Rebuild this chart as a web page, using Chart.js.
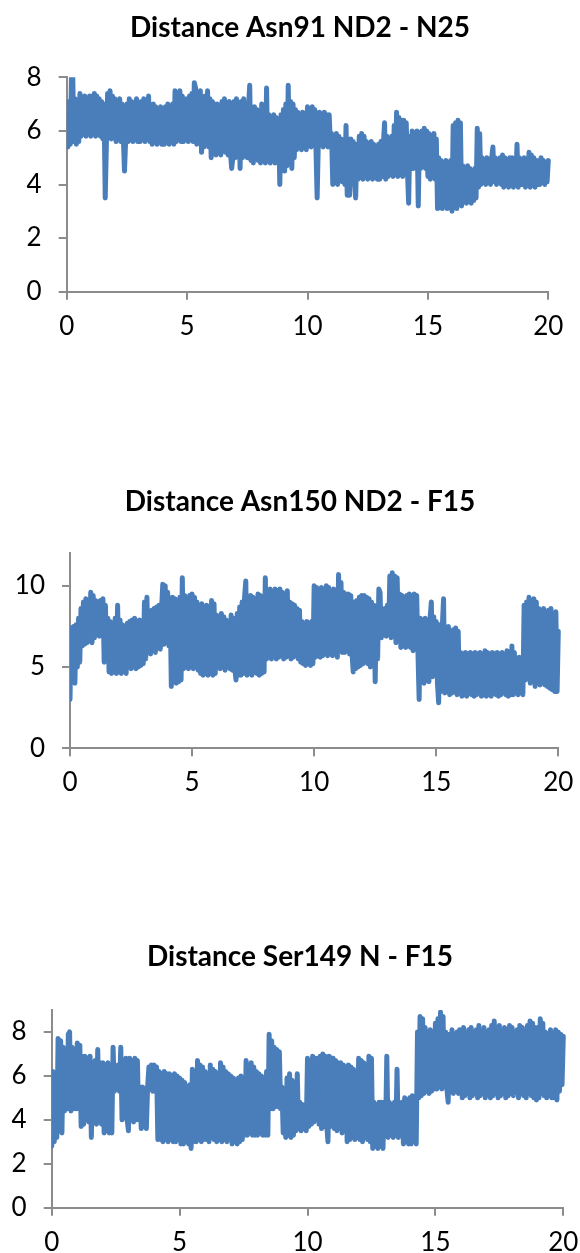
<!DOCTYPE html>
<html>
<head>
<meta charset="utf-8">
<script src="https://cdn.jsdelivr.net/npm/chart.js@4.4.0/dist/chart.umd.min.js"></script>
<style>
  html, body { margin: 0; padding: 0; background: #fff; overflow: hidden; }
  .box { position: absolute; left: 0; width: 600px; height: 350px; }
</style>
</head>
<body>
<div class="box" style="top:0px"><canvas id="chart1"></canvas></div>
<div class="box" style="top:460px"><canvas id="chart2"></canvas></div>
<div class="box" style="top:903px"><canvas id="chart3"></canvas></div>
<script>
// simulation time (ns)
var time = [
  0,0.05,0.1,0.15,0.2,0.25,0.3,0.35,0.4,0.45,0.5,0.55,0.6,0.65,0.7,0.75,0.8,0.85,0.9,0.95,
  1,1.05,1.1,1.15,1.2,1.25,1.3,1.35,1.4,1.45,1.5,1.55,1.6,1.65,1.7,1.75,1.8,1.85,1.9,1.95,
  2,2.05,2.1,2.15,2.2,2.25,2.3,2.35,2.4,2.45,2.5,2.55,2.6,2.65,2.7,2.75,2.8,2.85,2.9,2.95,
  3,3.05,3.1,3.15,3.2,3.25,3.3,3.35,3.4,3.45,3.5,3.55,3.6,3.65,3.7,3.75,3.8,3.85,3.9,3.95,
  4,4.05,4.1,4.15,4.2,4.25,4.3,4.35,4.4,4.45,4.5,4.55,4.6,4.65,4.7,4.75,4.8,4.85,4.9,4.95,
  5,5.05,5.1,5.15,5.2,5.25,5.3,5.35,5.4,5.45,5.5,5.55,5.6,5.65,5.7,5.75,5.8,5.85,5.9,5.95,
  6,6.05,6.1,6.15,6.2,6.25,6.3,6.35,6.4,6.45,6.5,6.55,6.6,6.65,6.7,6.75,6.8,6.85,6.9,6.95,
  7,7.05,7.1,7.15,7.2,7.25,7.3,7.35,7.4,7.45,7.5,7.55,7.6,7.65,7.7,7.75,7.8,7.85,7.9,7.95,
  8,8.05,8.1,8.15,8.2,8.25,8.3,8.35,8.4,8.45,8.5,8.55,8.6,8.65,8.7,8.75,8.8,8.85,8.9,8.95,
  9,9.05,9.1,9.15,9.2,9.25,9.3,9.35,9.4,9.45,9.5,9.55,9.6,9.65,9.7,9.75,9.8,9.85,9.9,9.95,
  10,10.05,10.1,10.15,10.2,10.25,10.3,10.35,10.4,10.45,10.5,10.55,10.6,10.65,10.7,10.75,10.8,10.85,10.9,10.95,
  11,11.05,11.1,11.15,11.2,11.25,11.3,11.35,11.4,11.45,11.5,11.55,11.6,11.65,11.7,11.75,11.8,11.85,11.9,11.95,
  12,12.05,12.1,12.15,12.2,12.25,12.3,12.35,12.4,12.45,12.5,12.55,12.6,12.65,12.7,12.75,12.8,12.85,12.9,12.95,
  13,13.05,13.1,13.15,13.2,13.25,13.3,13.35,13.4,13.45,13.5,13.55,13.6,13.65,13.7,13.75,13.8,13.85,13.9,13.95,
  14,14.05,14.1,14.15,14.2,14.25,14.3,14.35,14.4,14.45,14.5,14.55,14.6,14.65,14.7,14.75,14.8,14.85,14.9,14.95,
  15,15.05,15.1,15.15,15.2,15.25,15.3,15.35,15.4,15.45,15.5,15.55,15.6,15.65,15.7,15.75,15.8,15.85,15.9,15.95,
  16,16.05,16.1,16.15,16.2,16.25,16.3,16.35,16.4,16.45,16.5,16.55,16.6,16.65,16.7,16.75,16.8,16.85,16.9,16.95,
  17,17.05,17.1,17.15,17.2,17.25,17.3,17.35,17.4,17.45,17.5,17.55,17.6,17.65,17.7,17.75,17.8,17.85,17.9,17.95,
  18,18.05,18.1,18.15,18.2,18.25,18.3,18.35,18.4,18.45,18.5,18.55,18.6,18.65,18.7,18.75,18.8,18.85,18.9,18.95,
  19,19.05,19.1,19.15,19.2,19.25,19.3,19.35,19.4,19.45,19.5,19.55,19.6,19.65,19.7,19.75,19.8,19.85,19.9,19.95,
  20
];

// Asn91 ND2 - N25 distance
var distAsn91 = [
  6.4,5.4,7.1,5.5,8.1,8.1,5.6,7.2,5.5,7.1,5.6,7.4,5.8,7.2,5.9,7.3,5.8,7.1,5.9,7.3,
  5.8,7.3,5.9,7.4,5.8,7.3,5.9,7.2,5.8,7.1,5.7,7.0,3.5,5.6,7.4,5.8,7.5,5.7,7.3,5.8,
  7.2,5.6,7.1,5.7,7.2,5.6,7.0,5.8,4.5,5.7,7.0,5.6,7.2,5.7,7.1,5.6,7.0,5.8,7.2,5.6,
  7.0,5.6,7.1,5.7,7.2,5.6,7.0,5.8,7.3,5.6,6.9,5.5,7.0,5.6,6.9,5.5,6.8,5.6,6.9,5.5,
  6.8,5.5,6.9,5.6,7.0,5.5,6.8,5.7,7.0,5.5,7.5,5.6,7.4,5.7,7.5,5.6,7.3,5.6,7.2,5.7,
  7.2,5.6,7.3,5.7,7.4,5.6,7.8,7.6,5.5,7.3,5.6,7.5,5.2,7.1,5.4,7.3,5.5,7.5,5.4,7.2,
  5.0,7.1,5.2,7.0,5.1,7.0,5.2,6.9,5.1,7.1,5.3,7.2,5.2,7.0,5.1,7.1,5.2,4.6,5.0,7.1,
  5.0,7.2,5.1,7.0,4.6,7.1,5.0,7.2,5.1,7.0,5.0,6.9,7.7,4.9,6.8,4.8,6.9,5.0,6.8,4.9,
  6.7,4.8,7.0,4.9,6.8,4.8,7.6,4.9,6.6,4.8,6.5,4.9,6.6,4.8,6.5,4.9,6.4,4.0,6.6,4.8,
  6.8,4.5,7.0,4.7,7.7,4.8,7.1,4.6,7.0,5.0,6.8,5.3,6.7,5.4,6.6,5.3,6.7,5.4,6.6,5.3,
  6.9,5.5,6.8,5.4,6.9,5.5,6.8,5.4,3.5,5.6,6.7,5.5,6.6,5.4,6.7,5.5,6.6,5.4,6.6,5.5,
  5.9,4.0,5.8,4.1,5.9,4.0,5.8,4.2,5.7,4.1,5.6,4.0,6.2,3.6,5.7,3.6,5.7,4.2,5.6,4.2,
  3.5,5.5,4.2,5.8,4.3,5.9,4.2,5.8,4.3,5.6,4.2,5.5,4.3,5.6,4.2,5.5,4.3,5.4,4.2,5.5,
  4.2,5.6,4.3,5.5,6.3,4.2,5.8,4.3,5.7,4.4,5.8,4.3,6.2,4.4,6.7,4.3,6.5,4.4,6.4,4.3,
  6.4,4.4,6.3,4.5,3.3,5.8,4.6,6.0,4.6,5.9,4.7,6.0,3.2,5.9,4.6,6.0,4.7,6.1,4.6,6.0,
  4.3,5.9,4.2,5.8,4.3,5.9,4.2,5.7,3.1,5.0,3.2,4.9,3.1,4.8,3.2,4.9,3.1,4.8,3.2,4.9,
  3.0,6.2,3.2,6.3,3.1,6.4,3.3,6.3,3.2,4.7,3.4,4.6,3.3,4.7,3.4,4.6,3.3,4.5,3.4,4.6,
  3.5,6.1,3.9,5.9,4.0,5.0,4.1,4.9,4.0,5.0,4.1,4.9,4.0,5.0,5.4,4.1,5.0,4.0,4.9,4.1,
  5.0,4.0,5.1,3.9,5.0,4.0,4.9,3.9,5.0,4.0,5.0,3.9,4.9,4.0,5.5,3.9,5.0,4.0,4.9,4.0,
  5.0,3.9,4.9,4.1,5.2,3.9,5.1,4.0,5.0,3.9,4.9,4.0,4.9,4.0,5.0,4.1,4.9,4.0,4.8,4.1,
  4.9
];

// Asn150 ND2 - F15 distance
var distAsn150 = [
  3.0,7.4,4.2,7.5,4.0,7.6,5.0,8.0,5.3,8.6,6.3,9.0,6.4,9.2,6.5,9.1,6.6,9.6,6.5,9.4,
  6.8,9.1,7.0,9.0,6.9,9.1,7.0,9.2,5.3,8.8,5.5,8.0,4.7,7.8,4.6,7.6,4.7,8.0,4.6,8.8,
  4.7,7.9,4.6,7.6,4.8,7.5,4.6,7.7,5.0,7.8,4.9,7.9,5.0,8.0,4.9,7.8,5.0,7.9,5.1,7.8,
  5.2,9.0,5.5,9.3,6.0,8.4,5.8,8.5,6.1,8.6,5.9,8.7,6.2,8.8,6.1,8.5,10.1,6.4,10.0,6.6,
  9.6,6.3,9.2,3.8,9.3,4.1,9.2,4.0,9.0,4.1,9.3,4.2,10.5,4.9,9.4,5.0,9.2,4.9,9.4,5.0,
  9.5,4.9,9.3,5.0,9.0,4.8,8.8,4.6,8.9,4.5,8.6,4.6,8.8,4.5,8.7,4.6,9.1,4.5,8.9,4.6,
  8.2,5.0,8.0,4.9,8.3,5.0,8.1,4.8,7.9,5.0,7.8,4.9,8.2,4.8,8.0,4.9,4.2,8.3,4.5,8.7,
  4.5,9.0,4.6,9.3,10.3,4.5,9.2,4.6,9.4,4.5,9.3,4.7,9.2,4.6,9.5,4.5,9.4,4.6,9.3,4.7,
  10.5,5.5,9.7,5.6,9.8,5.5,9.6,5.7,9.8,5.5,9.7,5.6,9.8,5.8,9.6,5.5,9.5,5.6,9.7,5.7,
  9.0,5.5,8.9,5.6,8.8,5.8,8.6,5.5,8.5,5.3,7.8,5.2,7.7,5.1,7.8,5.2,7.7,5.1,7.8,5.2,
  10.0,5.6,9.9,5.7,9.8,5.6,9.9,5.7,9.8,5.8,10.0,5.7,9.9,5.8,9.7,5.7,9.8,5.8,9.7,5.6,
  10.7,6.2,10.2,5.9,9.6,5.9,9.5,6.0,9.5,5.8,9.4,5.9,4.7,9.0,4.9,9.1,5.0,9.3,5.1,9.4,
  5.2,9.4,5.3,9.3,5.2,9.2,5.0,9.0,5.1,8.8,4.1,8.7,5.5,9.8,9.6,6.8,8.5,7.0,8.6,6.9,
  8.8,7.0,10.6,6.8,10.8,7.0,10.6,6.5,10.5,6.6,9.5,6.2,9.4,6.3,9.3,6.2,9.4,6.3,9.5,6.2,
  9.4,6.0,9.5,6.1,9.4,6.0,3.0,8.0,4.2,7.9,4.0,8.0,4.3,7.8,4.1,8.0,9.0,4.4,8.1,4.5,
  7.8,4.0,2.8,7.6,3.5,7.5,9.2,3.4,7.4,3.5,7.5,3.3,7.2,3.4,7.3,3.5,7.4,3.3,7.2,3.4,
  5.9,3.2,5.8,3.3,5.9,3.2,5.8,3.4,5.9,3.3,5.8,3.2,5.9,3.3,5.8,3.4,5.9,3.2,5.8,3.3,
  6.0,3.2,5.9,3.3,5.8,3.2,5.9,3.4,5.8,3.3,5.9,3.2,5.8,3.3,5.9,3.4,5.8,3.3,6.0,3.2,
  5.8,3.3,6.3,3.3,5.9,3.4,5.5,3.3,5.6,3.4,5.5,3.3,8.8,4.2,9.0,4.3,9.3,4.0,9.1,4.1,
  9.2,3.8,9.0,4.3,8.6,3.9,8.5,4.3,8.6,3.9,8.4,3.8,8.5,3.7,8.6,3.6,8.3,3.5,8.4,3.5,
  7.2
];

// Ser149 N - F15 distance
var distSer149 = [
  2.8,6.2,3.0,6.1,3.2,7.7,3.5,7.6,3.4,7.3,4.4,7.2,4.5,7.9,8.0,4.4,7.3,4.5,7.2,4.5,
  7.5,4.5,7.4,3.7,6.9,3.8,6.9,4.0,6.8,3.9,6.9,3.2,6.6,3.9,6.7,3.8,7.2,3.9,6.6,3.8,
  6.6,3.4,6.5,3.5,6.6,3.4,6.5,3.4,7.3,5.3,6.4,5.4,6.5,5.3,7.3,4.0,6.6,4.1,6.8,4.0,
  3.5,6.8,4.0,6.7,3.9,6.8,4.0,6.7,4.0,5.5,3.6,5.5,3.7,5.4,3.6,5.5,6.4,5.4,6.5,5.3,
  6.5,5.4,6.4,3.1,6.2,3.1,6.1,3.0,6.2,3.1,6.1,3.0,6.1,3.1,6.0,3.0,6.1,3.0,6.0,3.1,
  5.9,2.9,5.8,2.9,5.7,3.0,5.5,2.9,5.6,2.7,6.3,3.0,6.2,3.0,6.7,3.1,6.5,3.0,6.4,3.1,
  6.2,3.1,6.1,3.0,6.5,3.2,6.3,3.1,6.2,3.0,6.1,3.1,6.6,3.0,6.4,3.1,6.2,3.0,6.1,3.2,
  6.0,2.9,5.9,3.0,5.8,2.9,5.9,3.0,6.0,3.1,5.9,3.3,6.7,3.3,6.5,3.4,6.6,3.3,6.4,3.3,
  6.2,3.3,6.1,3.4,6.0,3.3,5.9,3.3,6.2,3.3,7.9,4.5,7.6,4.5,7.3,4.6,7.2,4.6,7.1,4.5,
  5.5,3.4,5.4,3.2,5.9,3.3,6.1,3.2,5.8,3.3,4.9,3.5,6.1,3.6,4.8,3.5,4.7,3.6,4.6,3.5,
  6.8,3.7,6.7,3.8,6.9,3.9,6.8,4.0,6.8,3.8,6.9,3.6,7.0,3.7,6.9,3.8,3.0,6.9,3.7,6.8,
  6.8,3.6,6.7,3.5,6.6,3.6,6.6,3.4,6.5,3.5,6.4,3.0,6.5,3.1,6.4,3.2,6.3,3.1,6.2,3.2,
  6.8,3.1,6.7,3.0,6.6,3.2,6.5,3.1,6.9,3.0,6.8,2.7,4.8,2.8,4.7,2.7,4.8,2.8,4.8,2.7,
  4.8,3.3,6.9,3.2,4.8,3.3,4.7,3.2,4.8,3.3,6.3,3.2,4.7,3.3,4.8,2.9,5.0,3.0,4.9,2.9,
  5.0,2.9,5.1,3.0,5.0,2.9,8.0,5.0,8.7,5.1,8.6,5.2,8.2,5.3,8.0,5.2,8.1,5.3,8.0,5.4,
  8.4,5.4,8.6,5.5,8.9,5.4,8.7,5.5,8.0,5.4,4.8,7.9,5.3,8.1,5.2,7.9,5.3,8.0,5.2,8.1,
  8.0,5.0,8.2,5.1,7.9,5.2,8.1,5.0,8.2,5.1,8.0,5.2,8.1,5.0,8.3,5.1,8.0,5.2,8.2,5.0,
  8.0,5.2,8.1,5.0,8.3,5.1,8.5,5.2,8.2,5.0,8.3,5.1,8.0,5.2,8.2,5.0,8.1,5.1,8.3,5.2,
  8.2,5.1,8.0,5.3,8.1,5.0,8.3,5.2,8.2,5.1,8.0,5.0,8.3,5.2,8.5,5.1,8.4,5.0,8.2,4.9,
  8.2,5.0,8.6,5.2,8.4,5.1,8.0,5.0,7.9,5.1,8.1,5.0,7.9,5.0,8.1,4.9,8.0,5.3,7.9,5.6,
  7.8
];

var axisGray = "#8c8c8c";
var lineBlue = "#4a7ebb";
var tickFont = { family: "Lato", size: 26 };

function makeChart(id, title, values, yMax, yStep, bottomPad, yWidth, rightWidth, titlePad) {
    var ctx = document.getElementById(id);
    return new Chart(ctx, {
        type: 'line',
        data: {
            labels: time,
            datasets: [{
                data: values,
                borderColor: lineBlue,
                borderWidth: 5,
                borderJoinStyle: 'round',
                borderCapStyle: 'round',
                pointRadius: 0,
                tension: 0,
                fill: false,
                clip: { left: 0, top: 0, right: 5, bottom: 5 }
            }]
        },
        options: {
            responsive: true,
            maintainAspectRatio: false,
            animation: false,
            layout: { padding: { left: 0, right: 0, top: 0, bottom: bottomPad } },
            plugins: {
                legend: { display: false },
                tooltip: { enabled: false },
                title: {
                    display: true,
                    text: title,
                    color: '#000',
                    font: { family: "Lato", size: 28, weight: 'bold' },
                    padding: titlePad
                }
            },
            scales: {
                x: {
                    type: 'linear',
                    min: 0,
                    max: 20,
                    border: { color: axisGray, width: 2 },
                    grid: { drawOnChartArea: false, drawTicks: true, tickLength: 8, color: axisGray, lineWidth: 2 },
                    ticks: { stepSize: 5, maxRotation: 0, color: '#000', font: tickFont, padding: 11 },
                    afterFit: function(scale) { scale.height = 45; }
                },
                y: {
                    min: 0,
                    max: yMax,
                    bounds: 'data',
                    border: { color: axisGray, width: 2 },
                    grid: { drawOnChartArea: false, drawTicks: true, tickLength: 8, color: axisGray, lineWidth: 2 },
                    ticks: { stepSize: yStep, color: '#000', font: tickFont, padding: 17 },
                    afterBuildTicks: function(scale) {
                        // keep only the major steps, not the axis end value
                        scale.ticks = scale.ticks.filter(function(t) { return t.value % yStep === 0; });
                    },
                    afterFit: function(scale) { scale.width = yWidth; }
                },
                // empty spacer on the right so the title sits where Excel put it
                spacer: {
                    position: 'right',
                    grid: { display: false },
                    border: { display: false },
                    ticks: { display: false },
                    afterFit: function(scale) { scale.width = rightWidth; }
                }
            }
        }
    });
}

makeChart('chart1', 'Distance Asn91 ND2 - N25', distAsn91, 8, 2,
    13.3, 66.7, 51.7, { top: 11.2, bottom: 32.5 });
makeChart('chart2', 'Distance Asn150 ND2 - F15', distAsn150, 12, 5,
    16.7, 70, 41.7, { top: 24.9, bottom: 34.8 });
makeChart('chart3', 'Distance Ser149 N - F15', distSer149, 9, 2,
    0.3, 51.7, 36.7, { top: 37.2, bottom: 36.2 });
</script>
</body>
</html>
